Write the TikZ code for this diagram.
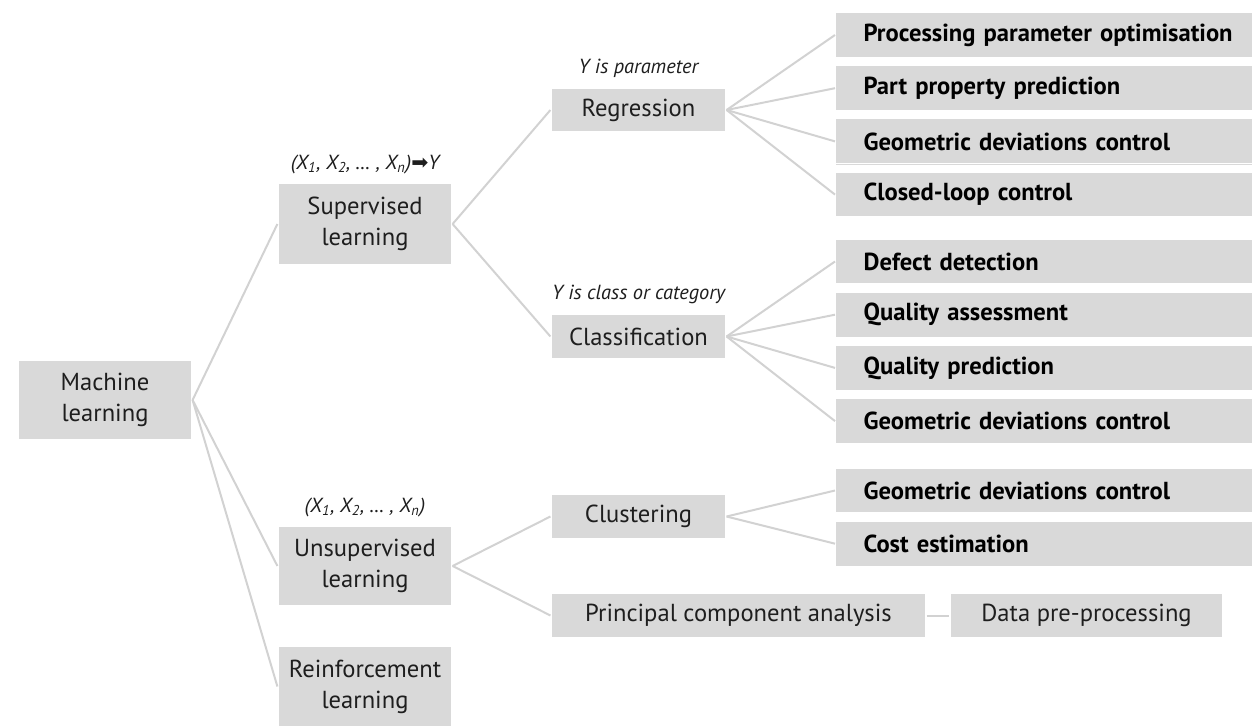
\documentclass[tikz,border=0pt]{standalone}
\usepackage{fontspec}
\setmainfont{PT Sans}
\newfontfamily\arrowfont{DejaVu Sans}
\usetikzlibrary{%
	positioning,%
	shadows,%
}
\definecolor{cboxgray}{RGB}{217, 217, 217}
\definecolor{clinegray}{RGB}{210, 210, 210}
\definecolor{ctext}{RGB}{30, 30, 30}
\tikzset{
	nodes={align=center},%
	method/.style={%
			rectangle,%
			draw=white,%
			line width=0.6pt,%
			fill=cboxgray,%
			text=ctext,%
			drop shadow={opacity=0.3, shadow xshift=0.4pt, shadow yshift=-0.4pt},%
			font={\fontsize{12.3}{15.5}\selectfont},%
			inner sep=0pt},%
	application/.style={%
			method,%
			anchor=west,%
			inner xsep=14pt,%
			minimum height=22.5pt,%
			text width=200pt,%
			align=left,%
			text=black,%
			font={\bfseries\fontsize{12.3}{14}\selectfont}},%
	hint/.style={%
			inner sep=0pt,%
			text=ctext,%
			font={\itshape\fontsize{10.2}{12}\selectfont}},%
	branch/.style={%
			draw=clinegray,%
			line width=1pt},%
}
\newcommand{\xvec}[1]{(X\textsubscript{1}, X\textsubscript{2}, \dots\ , X\textsubscript{n})#1}

\begin{document}
\begin{tikzpicture}[x=0.5pt, y=-0.5pt]
	\clip (0,0) rectangle (1252,727);

	\node[method, minimum width=87pt, minimum height=40pt] (ml) at (105,400) {Machine\\learning};

	\node[method, minimum width=87pt, minimum height=41pt] (sup) at (365,224) {Supervised\\learning};
	\node[method, minimum width=87pt, minimum height=40pt] (unsup) at (365,566) {Unsupervised\\learning};
	\node[method, minimum width=87pt, minimum height=40.5pt] (reinf) at (365,686.5) {Reinforcement\\learning};

	\node[hint, above=4pt of sup] (suphint) {\xvec{{\upshape\arrowfont ➡}Y}};
	\node[hint, above=4pt of unsup] (unsuphint) {\xvec{}};

	\node[method, minimum width=87.5pt, minimum height=22pt] (reg) at (638.5,110) {Regression};
	\node[method, minimum width=87.5pt, minimum height=22.5pt] (cls) at (638.5,336.5) {Classification};
	\node[method, minimum width=87.5pt, minimum height=22.5pt] (clu) at (638.5,516.5) {Clustering};
	\node[method, minimum width=187.5pt, minimum height=22.5pt] (pca) at (738.5,615.5) {Principal component analysis};
	\node[method, minimum width=136.5pt, minimum height=22.5pt] (dpp) at (1086.5,615.5) {Data pre-processing};

	\node[hint, above=4.5pt of reg] (reghint) {Y is parameter};
	\node[hint, above=4.5pt of cls] (clshint) {Y is class or category};

	% regression applications
	\node[application] (ppo) at (835,35) {Processing parameter optimisation};
	\node[application, below=3.5pt of ppo.south west, anchor=north west] (ppp) {Part property prediction};
	\node[application, below=3.5pt of ppp.south west, anchor=north west] (gdc1) {Geometric deviations control};
	\node[application, below=3.5pt of gdc1.south west, anchor=north west] (clc) {Closed-loop control};

	% classification applications
	\node[application] (dd) at (835,261.5) {Defect detection};
	\node[application, below=3.5pt of dd.south west, anchor=north west] (qa) {Quality assessment};
	\node[application, below=3.5pt of qa.south west, anchor=north west] (qp) {Quality prediction};
	\node[application, below=3.5pt of qp.south west, anchor=north west] (gdc2) {Geometric deviations control};

	% clustering applications
	\node[application] (gdc3) at (835,490.5) {Geometric deviations control};
	\node[application, below=3.5pt of gdc3.south west, anchor=north west] (ce) {Cost estimation};

	\draw[branch] (ml.east) -- (sup.west);
	\draw[branch] (ml.east) -- (unsup.west);
	\draw[branch] (ml.east) -- (reinf.west);
	\draw[branch] (sup.east) -- (reg.west);
	\draw[branch] (sup.east) -- (cls.west);
	\draw[branch] (unsup.east) -- (clu.west);
	\draw[branch] (unsup.east) -- (pca.west);
	\draw[branch] (pca.east) -- (dpp.west);
	\draw[branch] (reg.east) -- (ppo.west);
	\draw[branch] (reg.east) -- (ppp.west);
	\draw[branch] (reg.east) -- (gdc1.west);
	\draw[branch] (reg.east) -- (clc.west);
	\draw[branch] (cls.east) -- (dd.west);
	\draw[branch] (cls.east) -- (qa.west);
	\draw[branch] (cls.east) -- (qp.west);
	\draw[branch] (cls.east) -- (gdc2.west);
	\draw[branch] (clu.east) -- (gdc3.west);
	\draw[branch] (clu.east) -- (ce.west);
\end{tikzpicture}
\end{document}
